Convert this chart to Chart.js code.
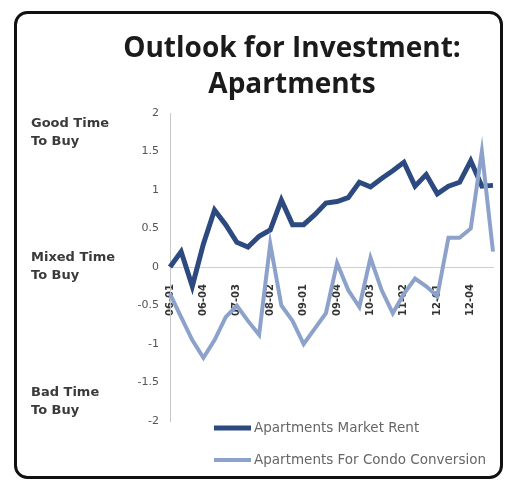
<!DOCTYPE html>
<html>
<head>
<meta charset="utf-8">
<title>Outlook for Investment: Apartments</title>
<script src="https://cdn.jsdelivr.net/npm/chart.js@4"></script>
<style>
  html, body { margin: 0; padding: 0; background: #fff; }
  #wrap { position: relative; width: 505px; height: 481px; }
</style>
</head>
<body>
<div id="wrap"><canvas id="outlookChart" width="505" height="481"></canvas></div>
<script>
// quarterly survey readings, 2006 Q1 .. 2013 Q2
const quarters = [
  "06-01", "06-02", "06-03", "06-04",
  "07-01", "07-02", "07-03", "07-04",
  "08-01", "08-02", "08-03", "08-04",
  "09-01", "09-02", "09-03", "09-04",
  "10-01", "10-02", "10-03", "10-04",
  "11-01", "11-02", "11-03", "11-04",
  "12-01", "12-02", "12-03", "12-04",
  "13-01", "13-02"
];

const marketRent = [
  0.0, 0.2, -0.25, 0.3, 0.74, 0.55, 0.32, 0.26, 0.4, 0.48,
  0.87, 0.55, 0.55, 0.68, 0.83, 0.85, 0.9, 1.1, 1.04, 1.15,
  1.25, 1.36, 1.05, 1.2, 0.95, 1.05, 1.1, 1.38, 1.05, 1.06
];

const condoConversion = [
  -0.35, -0.65, -0.95, -1.18, -0.95, -0.65, -0.5, -0.7, -0.88, 0.3,
  -0.5, -0.7, -1.0, -0.8, -0.6, 0.05, -0.3, -0.52, 0.12, -0.3,
  -0.6, -0.35, -0.15, -0.25, -0.38, 0.38, 0.38, 0.5, 1.5, 0.2
];

const seriesNames = ["Apartments Market Rent", "Apartments For Condo Conversion"];
const seriesColors = ["#2c4a7f", "#8da2cb"];

const titleLines = ["Outlook for Investment:", "Apartments"];

// sentiment bands written beside the value axis
const bandLabels = [["Good Time", "To Buy"], ["Mixed Time", "To Buy"], ["Bad Time", "To Buy"]];
const bandValues = [1.75, 0, -1.75];

const decorations = {
  id: "decorations",
  beforeDraw(chart) {
    const ctx = chart.ctx;
    ctx.save();
    ctx.fillStyle = "#fff";
    ctx.fillRect(0, 0, chart.width, chart.height);
    ctx.restore();
  },
  afterDraw(chart) {
    const ctx = chart.ctx;
    const yScale = chart.scales.y;
    ctx.save();

    // rounded frame
    ctx.strokeStyle = "#111";
    ctx.lineWidth = 3;
    ctx.beginPath();
    ctx.roundRect(15.5, 12.5, 486, 465, 12);
    ctx.stroke();

    // title
    ctx.fillStyle = "#1b1b1b";
    ctx.textAlign = "center";
    ctx.textBaseline = "middle";
    ctx.font = "bold 28px 'Open Sans'";
    ctx.fillText(titleLines[0], 292, 49);
    ctx.fillText(titleLines[1], 292, 85);

    // band labels
    ctx.textAlign = "left";
    ctx.fillStyle = "#3a3a3a";
    ctx.font = "bold 13px 'DejaVu Sans'";
    bandLabels.forEach((lines, i) => {
      const cy = yScale.getPixelForValue(bandValues[i]);
      ctx.fillText(lines[0], 31, cy - 9);
      ctx.fillText(lines[1], 31, cy + 9);
    });

    // legend, one entry per row
    ctx.font = "13.5px 'DejaVu Sans'";
    ctx.textBaseline = "middle";
    chart.data.datasets.forEach((ds, i) => {
      const ly = 428 + i * 32;
      ctx.strokeStyle = ds.borderColor;
      ctx.lineWidth = ds.borderWidth;
      ctx.beginPath();
      ctx.moveTo(214, ly);
      ctx.lineTo(251, ly);
      ctx.stroke();
      ctx.fillStyle = "#666";
      ctx.fillText(ds.label, 254, ly);
    });

    ctx.restore();
  }
};

new Chart(document.getElementById("outlookChart"), {
  type: "line",
  data: {
    labels: quarters,
    datasets: [
      {
        label: seriesNames[0],
        data: marketRent,
        borderColor: seriesColors[0],
        borderWidth: 5,
        pointRadius: 0,
        tension: 0,
        order: 1
      },
      {
        label: seriesNames[1],
        data: condoConversion,
        borderColor: seriesColors[1],
        borderWidth: 4,
        pointRadius: 0,
        tension: 0,
        order: 0
      }
    ]
  },
  options: {
    responsive: false,
    animation: false,
    devicePixelRatio: 1,
    layout: { padding: { left: 2, top: 113, right: 12, bottom: 60 } },
    plugins: {
      legend: { display: false },
      title: { display: false },
      tooltip: { enabled: false }
    },
    scales: {
      x: {
        type: "category",
        position: { y: 0 },
        offset: false,
        afterFit(scale) {
          scale.paddingLeft = 0;
          scale.paddingRight = 0;
        },
        grid: { display: false },
        border: { display: true, color: "#cfcfcf", width: 1 },
        ticks: {
          autoSkip: false,
          minRotation: 90,
          maxRotation: 90,
          padding: 9,
          color: "#333",
          font: { family: "DejaVu Sans", size: 10, weight: "bold" },
          callback: function (value, index) {
            return index % 3 === 0 ? this.getLabelForValue(value) : "";
          }
        }
      },
      y: {
        min: -2,
        max: 2,
        afterFit(scale) { scale.width = 168; },
        grid: { display: false },
        border: { display: true, color: "#c8c8c8", width: 1 },
        ticks: {
          stepSize: 0.5,
          color: "#555",
          font: { family: "DejaVu Sans", size: 11 },
          callback: (value) => String(value)
        }
      }
    }
  },
  plugins: [decorations]
});
</script>
</body>
</html>
